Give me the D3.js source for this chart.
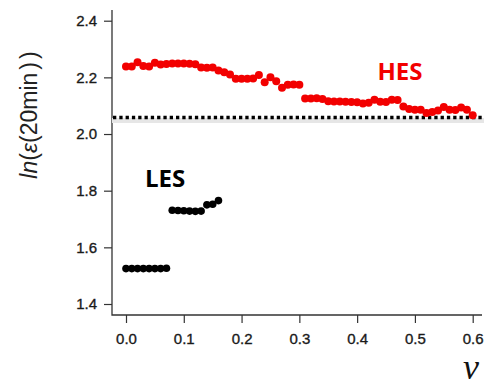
<!DOCTYPE html>
<html>
<head>
<meta charset="utf-8">
<script src="https://cdn.jsdelivr.net/npm/d3@7"></script>
<style>
  html, body { margin: 0; padding: 0; background: #fff; }
  svg { display: block; }
</style>
</head>
<body>
<svg id="chart" width="486" height="388"></svg>
<script>
// nu values (step 0.01)
const hesNu = d3.range(0, 61).map(i => i / 100);
const hesVals = [
  2.238, 2.238, 2.253, 2.240, 2.238, 2.252, 2.245, 2.247, 2.249, 2.249,
  2.249, 2.248, 2.246, 2.235, 2.234, 2.235, 2.224, 2.218, 2.210, 2.195,
  2.195, 2.195, 2.196, 2.208, 2.183, 2.200, 2.186, 2.163, 2.174, 2.175,
  2.174, 2.125, 2.125, 2.126, 2.124, 2.116, 2.115, 2.115, 2.114, 2.113,
  2.112, 2.108, 2.110, 2.121, 2.114, 2.113, 2.121, 2.120, 2.097, 2.088,
  2.086, 2.086, 2.074, 2.078, 2.083, 2.095, 2.086, 2.085, 2.094, 2.086,
  2.066
];
const lesNu = d3.range(0, 17).map(i => i / 100);
const lesVals = [
  1.525, 1.525, 1.525, 1.525, 1.525, 1.525, 1.525, 1.526,
  1.731, 1.730, 1.729, 1.728, 1.727, 1.728,
  1.750, 1.752, 1.765
];
const thresholdValue = 2.058;
const xTicks = [0, 0.1, 0.2, 0.3, 0.4, 0.5, 0.6];
const yTicks = [1.4, 1.6, 1.8, 2.0, 2.2, 2.4];

const svg = d3.select('#chart');
const frame = { left: 112, top: 10, right: 482, bottom: 315 };

const x = d3.scaleLinear().domain([0, 0.6]).range([126, 472.7]);
const y = d3.scaleLinear().domain([1.4, 2.4]).range([304, 20.7]);

// axes
const yAxis = svg.append('g')
  .attr('transform', `translate(${frame.left},0)`)
  .call(d3.axisLeft(y).tickValues(yTicks).tickFormat(d3.format('.1f')).tickSize(8).tickSizeOuter(0).tickPadding(7));
const xAxis = svg.append('g')
  .attr('transform', `translate(0,${frame.bottom})`)
  .call(d3.axisBottom(x).tickValues(xTicks).tickFormat(d3.format('.1f')).tickSize(8).tickSizeOuter(0).tickPadding(10));
[yAxis, xAxis].forEach(a => {
  a.select('.domain').remove();
  a.selectAll('line').attr('stroke', '#333').attr('stroke-width', 1.2);
  a.selectAll('text')
    .attr('fill', '#1a1a1a')
    .attr('stroke', '#1a1a1a')
    .attr('stroke-width', 0.35)
    .style('font-family', '"Liberation Sans", Arial, sans-serif')
    .style('font-size', '15px');
});

svg.append('path')
  .attr('d', `M${frame.left},${frame.top}V${frame.bottom}H${frame.right}`)
  .attr('fill', 'none')
  .attr('stroke', '#333')
  .attr('stroke-width', 1.3);

// threshold dotted line with soft shadow
const ty = y(thresholdValue);
svg.append('line')
  .attr('x1', frame.left).attr('x2', 484)
  .attr('y1', ty + 3).attr('y2', ty + 3)
  .attr('stroke', '#e6e6e6').attr('stroke-width', 5);
svg.append('line')
  .attr('x1', frame.left + 1).attr('x2', 484)
  .attr('y1', ty).attr('y2', ty)
  .attr('stroke', '#000').attr('stroke-width', 3.5)
  .attr('stroke-dasharray', '3.3,3');

// series
svg.append('g').selectAll('circle')
  .data(hesNu.map((v, i) => [v, hesVals[i]]))
  .join('circle')
  .attr('cx', d => x(d[0]))
  .attr('cy', d => y(d[1]))
  .attr('r', 4)
  .attr('fill', '#f20000');

svg.append('g').selectAll('circle')
  .data(lesNu.map((v, i) => [v, lesVals[i]]))
  .join('circle')
  .attr('cx', d => x(d[0]))
  .attr('cy', d => y(d[1]))
  .attr('r', 3.8)
  .attr('fill', '#000');

// labels
svg.append('text')
  .attr('x', 400).attr('y', 80)
  .attr('text-anchor', 'middle')
  .attr('fill', '#f20000')
  .style('font-family', '"Open Sans", sans-serif')
  .style('font-weight', 'bold')
  .style('font-size', '24px')
  .text('HES');

svg.append('text')
  .attr('x', 165).attr('y', 187)
  .attr('text-anchor', 'middle')
  .attr('fill', '#000')
  .style('font-family', '"Open Sans", sans-serif')
  .style('font-weight', 'bold')
  .style('font-size', '24px')
  .text('LES');

const yl = svg.append('text')
  .attr('transform', 'translate(37,115) rotate(-90)')
  .attr('text-anchor', 'middle')
  .attr('fill', '#222')
  .style('font-family', '"Liberation Sans", Arial, sans-serif')
  .style('font-size', '23px');
yl.append('tspan').style('font-style', 'italic').text('ln');
yl.append('tspan').text('(');
yl.append('tspan').style('font-style', 'italic').text('ε');
yl.append('tspan').text('(20min');
yl.append('tspan').attr('dx', 3).text(')');
yl.append('tspan').attr('dx', 3).text(')');

svg.append('text')
  .attr('x', 471).attr('y', 379)
  .attr('text-anchor', 'middle')
  .attr('fill', '#111')
  .style('font-family', '"Liberation Serif", "Times New Roman", serif')
  .style('font-style', 'italic')
  .style('font-size', '36px')
  .text('ν');
</script>
</body>
</html>
